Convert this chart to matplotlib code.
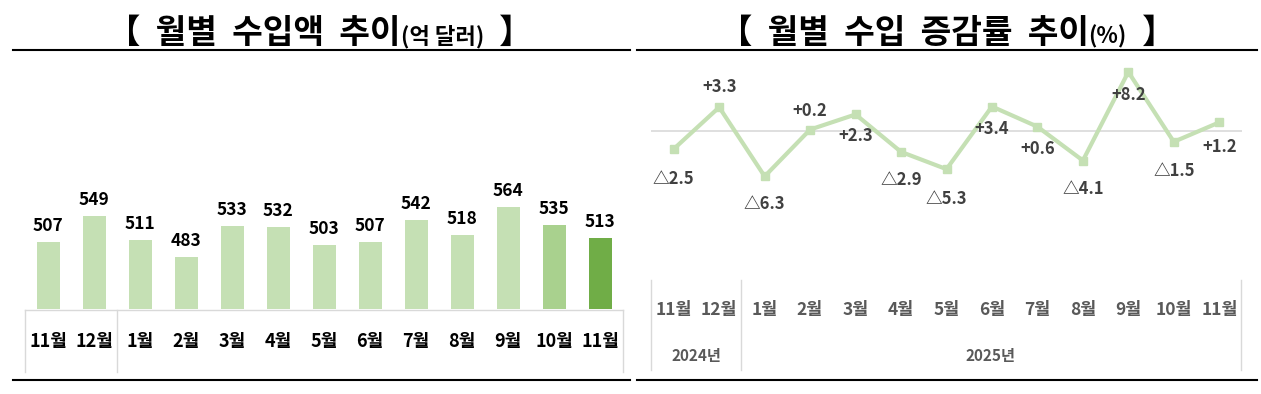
import matplotlib
matplotlib.use("Agg")
import matplotlib.pyplot as plt
from matplotlib.lines import Line2D

plt.rcParams['font.family'] = ['Noto Sans CJK KR', 'DejaVu Sans']

# ---- data ----
months = ['11월', '12월', '1월', '2월', '3월', '4월', '5월', '6월', '7월', '8월', '9월', '10월', '11월']
years = ['2024년', '2025년']
imports = [507, 549, 511, 483, 533, 532, 503, 507, 542, 518, 564, 535, 513]
growth = [-2.5, 3.3, -6.3, 0.2, 2.3, -2.9, -5.3, 3.4, 0.6, -4.1, 8.2, -1.5, 1.2]
title_left = ['【  월별  수입액  추이', '(억 달러)', '  】']
title_right = ['【  월별  수입  증감률  추이', '(%)', '  】']

# ---- figure ----
W, H = 1261, 394
fig = plt.figure(figsize=(W / 100, H / 100), dpi=100)
fig.patch.set_facecolor('white')


def fx(x):
    return x / W


def fy(y):
    return 1 - y / H


def hline(x0, x1, y, color='black', lw=1.5):
    fig.add_artist(Line2D([fx(x0), fx(x1)], [fy(y), fy(y)], color=color, lw=lw,
                          transform=fig.transFigure))


def vline(x, y0, y1, color='#D9D9D9', lw=1.0):
    fig.add_artist(Line2D([fx(x), fx(x)], [fy(y0), fy(y1)], color=color, lw=lw,
                          transform=fig.transFigure))


renderer = fig.canvas.get_renderer()


def title(pieces, sizes, cx, base_y):
    texts = []
    for p, s in zip(pieces, sizes):
        t = fig.text(0, fy(base_y), p, fontsize=s, fontweight='black', color='black',
                     va='baseline', ha='left')
        texts.append(t)
    widths = [t.get_window_extent(renderer).width for t in texts]
    total = sum(widths)
    x = cx - total / 2
    for t, w in zip(texts, widths):
        t.set_x(fx(x))
        x += w


# titles
title(title_left, [24, 16, 24], 320, 43)
title(title_right, [24, 16, 24], 947, 43)
hline(13, 630, 50)
hline(637, 1257, 50)
hline(13, 630, 380)
hline(637, 1257, 380)

# ---- left: bar chart ----
axL = fig.add_axes([fx(25), fy(309), fx(623) - fx(25), fy(60) - fy(309)])
colors = ['#C5E0B4'] * 11 + ['#A9D18E', '#70AD47']
xs = list(range(len(months)))
axL.bar(xs, imports, width=0.5, color=colors, bottom=0)
axL.set_xlim(-0.5, 12.5)
axL.set_ylim(400, 400 + 249 / 0.625)
for x, v in zip(xs, imports):
    axL.annotate(f'{v}', (x, v), xytext=(0, 5), textcoords='offset points',
                 ha='center', va='bottom', fontsize=12.5, fontweight='bold', color='black')
axL.axis('off')
hline(25, 623, 309.5, color='#D9D9D9', lw=1.0)
for x in (25, 117, 623):
    vline(x, 309.5, 372)
for i, m in enumerate(months):
    cx = 48 + 46 * i
    fig.text(fx(cx), fy(341), m, ha='center', va='center', fontsize=13,
             fontweight='bold', color='black')

# ---- right: line chart ----
x0, x1 = 651, 1242
axR = fig.add_axes([fx(x0), fy(275), fx(x1) - fx(x0), fy(55) - fy(275)])
axR.set_xlim(-0.5, 12.5)
axR.set_ylim(-(275 - 131) / 7.2, (131 - 55) / 7.2)
axR.axhline(0, color='#D9D9D9', lw=1.2, zorder=1)
axR.plot(xs, growth, color='#C5E0B4', lw=3, marker='s', markersize=6,
         markerfacecolor='#C5E0B4', markeredgecolor='#C5E0B4', zorder=2)
offsets = [-30, 20, -28, 19, -22, -28, -30, -22, -22, -28, -23, -29, -25]
for x, v, off in zip(xs, growth, offsets):
    lab = f'+{v:.1f}' if v > 0 else f'△{abs(v):.1f}'
    axR.annotate(lab, (x, v), xytext=(0, off * 0.72), textcoords='offset points',
                 ha='center', va='center', fontsize=12, fontweight='bold', color='#404040')
axR.axis('off')

for x in (651, 741, 1241):
    vline(x, 280, 370)
for i, m in enumerate(months):
    cx = 673.5 + 45.5 * i
    fig.text(fx(cx), fy(310), m, ha='center', va='center', fontsize=12.5,
             fontweight='bold', color='#595959')
fig.text(fx(696), fy(356), years[0], ha='center', va='center', fontsize=11,
         fontweight='bold', color='#595959')
fig.text(fx(991), fy(356), years[1], ha='center', va='center', fontsize=11,
         fontweight='bold', color='#595959')

fig.savefig('out.png', dpi=100, facecolor='white')
